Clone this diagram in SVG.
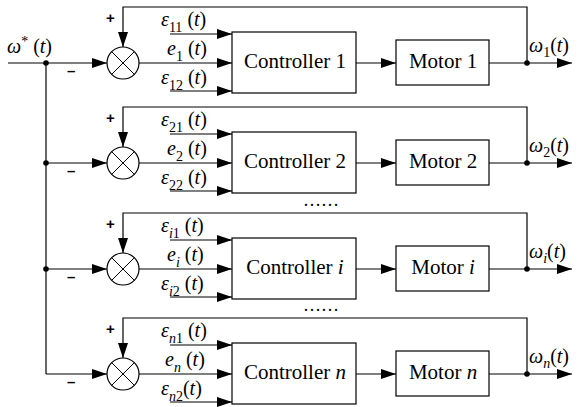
<svg xmlns="http://www.w3.org/2000/svg" width="579" height="407" viewBox="0 0 579 407">
<style>
.ln{fill:none;stroke:#000;stroke-width:1.2}
.ar{fill:none;stroke:#000;stroke-width:1.2;marker-end:url(#ah)}
.box{fill:#fff;stroke:#000;stroke-width:1.2}
.sum{fill:#fff;stroke:#000;stroke-width:1.2}
.x{stroke:#000;stroke-width:1}
.dot{fill:#000}
.bt{font-family:"Liberation Serif","Times New Roman",serif;font-size:21px;text-anchor:middle;fill:#000}
.lbl{font-family:"Liberation Serif","Times New Roman",serif;font-size:20px;font-style:italic;fill:#000}
.up{font-style:normal}
.sb{font-size:14px}
.sg{font-family:"Liberation Sans",Arial,sans-serif;font-size:15px;font-weight:bold;fill:#000}
.dd{font-family:"Liberation Serif","Times New Roman",serif;font-size:18px;fill:#000}
</style>
<defs>
<marker id="ah" markerUnits="userSpaceOnUse" markerWidth="16" markerHeight="10" refX="15" refY="5" orient="auto">
<path d="M0,0 L15,5 L0,10 z" fill="#000"/>
</marker>
</defs>

<g id="connectors">
<!-- reference input trunk -->
<path class="ar" d="M8,63 H107"/>
<path class="ln" d="M46,63 V374"/>
<path class="ar" d="M46,163 H107"/>
<path class="ar" d="M46,269 H107"/>
<path class="ar" d="M46,374 H107"/>
<circle class="dot" cx="46" cy="63" r="2.8"/>
<circle class="dot" cx="46" cy="163" r="2.8"/>
<circle class="dot" cx="46" cy="269" r="2.8"/>
<!-- row 1 -->
<path class="ar" d="M527,63 V7 H123 V47"/>
<path class="ar" d="M139,63 H232"/>
<path class="ar" d="M170,34 H232"/>
<path class="ar" d="M170,91 H232"/>
<path class="ar" d="M356,63 H396"/>
<path class="ar" d="M489,63 H572"/>
<circle class="dot" cx="527" cy="63" r="2.8"/>
<!-- row 2 -->
<path class="ar" d="M527,163 V107 H123 V147"/>
<path class="ar" d="M139,163 H232"/>
<path class="ar" d="M170,134 H232"/>
<path class="ar" d="M170,191 H232"/>
<path class="ar" d="M356,163 H396"/>
<path class="ar" d="M489,163 H572"/>
<circle class="dot" cx="527" cy="163" r="2.8"/>
<!-- row i -->
<path class="ar" d="M527,269 V213 H123 V253"/>
<path class="ar" d="M139,269 H232"/>
<path class="ar" d="M170,240 H232"/>
<path class="ar" d="M170,297 H232"/>
<path class="ar" d="M356,269 H396"/>
<path class="ar" d="M489,269 H572"/>
<circle class="dot" cx="527" cy="269" r="2.8"/>
<!-- row n -->
<path class="ar" d="M527,374 V318 H123 V358"/>
<path class="ar" d="M139,374 H232"/>
<path class="ar" d="M170,345 H232"/>
<path class="ar" d="M170,402 H232"/>
<path class="ar" d="M356,374 H396"/>
<path class="ar" d="M489,374 H572"/>
<circle class="dot" cx="527" cy="374" r="2.8"/>
</g>

<text class="lbl" x="7" y="53">ω<tspan class="sb up" dy="-7">*</tspan><tspan class="up" dy="7"> (</tspan>t<tspan class="up">)</tspan></text>

<g id="sum1">
<circle class="sum" cx="123" cy="63" r="16"/>
<path class="x" d="M111.7,51.7 L134.3,74.3 M134.3,51.7 L111.7,74.3"/>
<text class="sg" x="106" y="23">+</text>
<text class="sg" x="67" y="76">–</text>
</g>
<g id="sum2">
<circle class="sum" cx="123" cy="163" r="16"/>
<path class="x" d="M111.7,151.7 L134.3,174.3 M134.3,151.7 L111.7,174.3"/>
<text class="sg" x="106" y="123">+</text>
<text class="sg" x="67" y="176">–</text>
</g>
<g id="sumi">
<circle class="sum" cx="123" cy="269" r="16"/>
<path class="x" d="M111.7,257.7 L134.3,280.3 M134.3,257.7 L111.7,280.3"/>
<text class="sg" x="106" y="229">+</text>
<text class="sg" x="67" y="282">–</text>
</g>
<g id="sumn">
<circle class="sum" cx="123" cy="374" r="16"/>
<path class="x" d="M111.7,362.7 L134.3,385.3 M134.3,362.7 L111.7,385.3"/>
<text class="sg" x="106" y="334">+</text>
<text class="sg" x="67" y="387">–</text>
</g>

<g id="labels1">
<text class="lbl" x="161" y="26">ε<tspan class="sb up" dy="6">11</tspan><tspan class="up" dy="-6"> (</tspan>t<tspan class="up">)</tspan></text>
<text class="lbl" x="167" y="55">e<tspan class="sb up" dy="6">1</tspan><tspan class="up" dy="-6"> (</tspan>t<tspan class="up">)</tspan></text>
<text class="lbl" x="161" y="84">ε<tspan class="sb up" dy="6">12</tspan><tspan class="up" dy="-6"> (</tspan>t<tspan class="up">)</tspan></text>
</g>
<g id="labels2">
<text class="lbl" x="161" y="126">ε<tspan class="sb up" dy="6">21</tspan><tspan class="up" dy="-6"> (</tspan>t<tspan class="up">)</tspan></text>
<text class="lbl" x="167" y="155">e<tspan class="sb up" dy="6">2</tspan><tspan class="up" dy="-6"> (</tspan>t<tspan class="up">)</tspan></text>
<text class="lbl" x="161" y="184">ε<tspan class="sb up" dy="6">22</tspan><tspan class="up" dy="-6"> (</tspan>t<tspan class="up">)</tspan></text>
</g>
<g id="labelsi">
<text class="lbl" x="161" y="232">ε<tspan class="sb" dy="6">i</tspan><tspan class="sb up">1</tspan><tspan class="up" dy="-6"> (</tspan>t<tspan class="up">)</tspan></text>
<text class="lbl" x="167" y="261">e<tspan class="sb" dy="6">i</tspan><tspan class="up" dy="-6"> (</tspan>t<tspan class="up">)</tspan></text>
<text class="lbl" x="161" y="290">ε<tspan class="sb" dy="6">i</tspan><tspan class="sb up">2</tspan><tspan class="up" dy="-6"> (</tspan>t<tspan class="up">)</tspan></text>
</g>
<g id="labelsn">
<text class="lbl" x="161" y="337">ε<tspan class="sb" dy="6">n</tspan><tspan class="sb up">1</tspan><tspan class="up" dy="-6"> (</tspan>t<tspan class="up">)</tspan></text>
<text class="lbl" x="165" y="366">e<tspan class="sb" dy="6">n</tspan><tspan class="up" dy="-6"> (</tspan>t<tspan class="up">)</tspan></text>
<text class="lbl" x="161" y="395">ε<tspan class="sb" dy="6">n</tspan><tspan class="sb up">2</tspan><tspan class="up" dy="-6">(</tspan>t<tspan class="up">)</tspan></text>
</g>

<g id="controller1"><rect class="box" x="232" y="32" width="124" height="61"/><text class="bt" x="295" y="68">Controller 1</text></g>
<g id="motor1"><rect class="box" x="396" y="40" width="93" height="45"/><text class="bt" x="443" y="68">Motor 1</text></g>
<g id="controller2"><rect class="box" x="232" y="132" width="124" height="61"/><text class="bt" x="295" y="168">Controller 2</text></g>
<g id="motor2"><rect class="box" x="396" y="140" width="93" height="45"/><text class="bt" x="443" y="168">Motor 2</text></g>
<g id="controlleri"><rect class="box" x="232" y="238" width="124" height="61"/><text class="bt" x="295" y="274">Controller <tspan font-style="italic">i</tspan></text></g>
<g id="motori"><rect class="box" x="396" y="246" width="93" height="45"/><text class="bt" x="443" y="274">Motor <tspan font-style="italic">i</tspan></text></g>
<g id="controllern"><rect class="box" x="232" y="343" width="124" height="61"/><text class="bt" x="295" y="379">Controller <tspan font-style="italic">n</tspan></text></g>
<g id="motorn"><rect class="box" x="396" y="351" width="93" height="45"/><text class="bt" x="443" y="379">Motor <tspan font-style="italic">n</tspan></text></g>

<g id="outputs">
<text class="lbl" x="529" y="52">ω<tspan class="sb up" dy="5">1</tspan><tspan class="up" dy="-5">(</tspan>t<tspan class="up">)</tspan></text>
<text class="lbl" x="529" y="152">ω<tspan class="sb up" dy="5">2</tspan><tspan class="up" dy="-5">(</tspan>t<tspan class="up">)</tspan></text>
<text class="lbl" x="529" y="258">ω<tspan class="sb" dy="5">i</tspan><tspan class="up" dy="-5">(</tspan>t<tspan class="up">)</tspan></text>
<text class="lbl" x="529" y="363">ω<tspan class="sb" dy="5">n</tspan><tspan class="up" dy="-5">(</tspan>t<tspan class="up">)</tspan></text>
</g>

<text class="dd" x="303" y="206">……</text>
<text class="dd" x="303" y="311">……</text>
</svg>
